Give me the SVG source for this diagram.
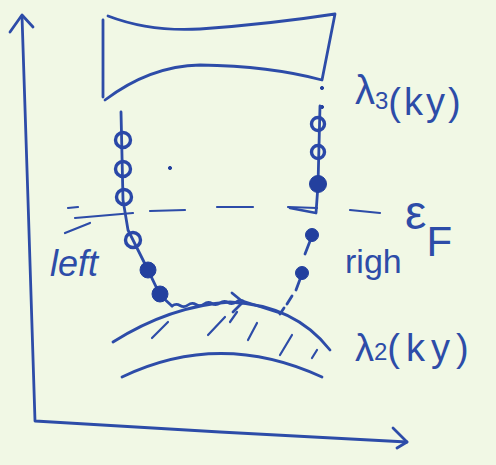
<svg xmlns="http://www.w3.org/2000/svg" width="496" height="465" viewBox="0 0 496 465">
<style>
.ink{fill:none;stroke:#2d4ca8;stroke-width:2.8;stroke-linecap:round;stroke-linejoin:round}
.thin{fill:none;stroke:#2d4ca8;stroke-width:2.2;stroke-linecap:round}
.open{fill:none;stroke:#2a48a8;stroke-width:3.4}
.full{fill:#23409e;stroke:#23409e;stroke-width:1}
.lbl{font-family:"Liberation Sans","DejaVu Sans",sans-serif;fill:#2d4ca8}
</style>
<rect width="496" height="465" fill="#f1f8e5"/>
<g id="axes">
<path class="ink" d="M22,16 L28,200 L35,421 L220,432 L407,442"/>
<path class="ink" d="M10,32 L22,15 L33,27"/>
<path class="ink" d="M393,428 L407,442 L397,448"/>
</g>
<g id="band-upper">
<path class="ink" d="M108,16 Q150,32 200,29 Q270,24 335,14 L322,80 Q270,66 200,65 Q150,66 105,100 M103,20 L103,97"/>
<circle class="full" cx="322" cy="88" r="1.6"/>
<circle class="full" cx="322" cy="107" r="1.6"/>
</g>
<g id="band-lower">
<path class="ink" d="M113,342 Q170,306 230,302 Q295,305 330,350"/>
<path class="ink" d="M122,377 Q220,330 322,377"/>
<path class="thin" d="M168,322 L152,338 M225,317 L208,335 M237,312 L230,322 M257,323 L248,340 M292,335 L280,355 M317,350 L312,358"/>
</g>
<g id="fermi-level">
<path class="thin" d="M68,208 L78,207 M75,218 L133,213 M65,233 L90,223 M150,211 L185,210 M217,207 L253,207 M288,207 L317,208 M350,210 L380,213"/>
</g>
<g id="left-chain">
<path class="ink" d="M121,112 L123,200 L128,230 L148,270 L160,295 L172,306"/>
<circle class="open" cx="123" cy="140" r="7.5"/>
<circle class="open" cx="123" cy="169" r="7.5"/>
<circle class="open" cx="124" cy="197" r="7.5"/>
<circle class="open" cx="133" cy="240" r="7.5"/>
<circle class="full" cx="148" cy="270" r="8"/>
<circle class="full" cx="160" cy="294" r="8"/>
</g>
<g id="right-chain">
<path class="ink" d="M320,106 L318,185 L316,213 L290,208"/>
<path class="ink" d="M312,236 L305,254 M302,274 L296,290 M292,296 L287,304 M284,308 L280,314"/>
<circle class="open" cx="318" cy="124" r="6.5"/>
<circle class="open" cx="318" cy="152" r="6.5"/>
<circle class="full" cx="318" cy="184" r="8.5"/>
<circle class="full" cx="312" cy="235" r="6.5"/>
<circle class="full" cx="302" cy="273" r="6.5"/>
</g>
<circle class="full" cx="170" cy="168" r="1.6"/>
<g id="connectors">
<path class="ink" d="M172,306 q4,-3 8,-0.5 t8,-0.5 t8,-0.5 t8,-0.5 t8,-0.5 t8,-0.5 t8,-0.5 t8,-0.5 t8,-0.5 L280,313"/>
<path class="ink" d="M232,293 L243,302 L233,312"/>
</g>
<g id="labels">
<text class="lbl" x="355" y="104" font-size="40">λ<tspan font-size="24" dy="5">3</tspan><tspan font-size="38" dy="6" letter-spacing="3">(ky)</tspan></text>
<text class="lbl" x="405" y="229" font-size="48">ε<tspan font-size="42" dy="27">F</tspan></text>
<text class="lbl" x="50" y="276" font-size="36" font-style="italic">left</text>
<text class="lbl" x="345" y="273" font-size="34">righ</text>
<text class="lbl" x="355" y="361" font-size="38">λ<tspan font-size="24" dy="-1">2</tspan><tspan font-size="38" dy="1" letter-spacing="6">(ky)</tspan></text>
</g>
</svg>
